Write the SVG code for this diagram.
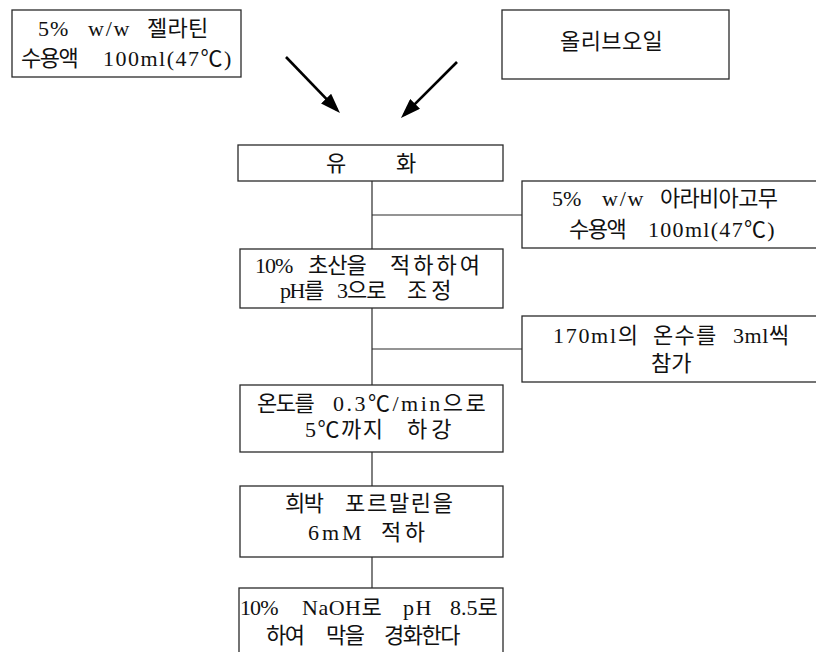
<svg xmlns="http://www.w3.org/2000/svg" width="816" height="652" viewBox="0 0 816 652">
<style>
.box{fill:#fff;stroke:#2a2a2a;stroke-width:1.3}
.t{font-family:"Liberation Serif","Noto Sans CJK KR",serif;font-size:22px;fill:#111}
.c{stroke:#2a2a2a;stroke-width:1.2;fill:none}
.a{stroke:#000;stroke-width:2.6;fill:none}
</style>
<defs>
<marker id="ah" viewBox="0 0 20 14" refX="16" refY="7" markerWidth="20" markerHeight="14" markerUnits="userSpaceOnUse" orient="auto">
<path d="M0,0 L20,7 L0,14 z" fill="#000"/>
</marker>
</defs>
<rect width="816" height="652" fill="#fff"/>

<g id="connectors">
<line class="a" x1="286" y1="57" x2="337.2" y2="110.1" marker-end="url(#ah)"/>
<line class="a" x1="457" y1="62" x2="403.8" y2="115.2" marker-end="url(#ah)"/>
<line class="c" x1="372" y1="181" x2="372" y2="249"/>
<line class="c" x1="372" y1="215" x2="522" y2="215"/>
<line class="c" x1="372" y1="308" x2="372" y2="385"/>
<line class="c" x1="372" y1="349" x2="522" y2="349"/>
<line class="c" x1="372" y1="452" x2="372" y2="486"/>
<line class="c" x1="372" y1="557" x2="372" y2="588"/>
</g>

<g id="gelatin">
<rect class="box" x="12" y="10" width="229" height="67"/>
<text class="t" y="36"><tspan x="38" letter-spacing="1">5%</tspan> <tspan x="88" letter-spacing="1.8">w/w</tspan> <tspan x="147" letter-spacing="0.3">젤라틴</tspan></text>
<text class="t" y="66"><tspan x="21" letter-spacing="-1.5">수용액</tspan> <tspan x="103" letter-spacing="1.5">100ml(47℃)</tspan></text>
</g>

<g id="olive">
<rect class="box" x="502" y="10" width="227" height="69"/>
<text class="t" x="560" y="49" letter-spacing="0.4">올리브오일</text>
</g>

<g id="emulsify">
<rect class="box" x="238" y="145" width="265" height="36"/>
<text class="t" y="171"><tspan x="326">유</tspan> <tspan x="396">화</tspan></text>
</g>

<g id="arabic">
<rect class="box" x="522" y="181" width="300" height="67"/>
<text class="t" y="206"><tspan x="552">5%</tspan> <tspan x="602" letter-spacing="1.8">w/w</tspan> <tspan x="660" letter-spacing="-0.7">아라비아고무</tspan></text>
<text class="t" y="237"><tspan x="569" letter-spacing="-1.5">수용액</tspan> <tspan x="648" letter-spacing="1.3">100ml(47℃)</tspan></text>
</g>

<g id="acid">
<rect class="box" x="240" y="249" width="263" height="59"/>
<text class="t" y="273"><tspan x="255" letter-spacing="-1">10%</tspan> <tspan x="308" letter-spacing="-1">초산을</tspan> <tspan x="390" letter-spacing="3">적하하여</tspan></text>
<text class="t" y="298"><tspan x="280" letter-spacing="-1.5">pH를</tspan> <tspan x="337" letter-spacing="-1">3으로</tspan> <tspan x="407" letter-spacing="4">조정</tspan></text>
</g>

<g id="water">
<rect class="box" x="522" y="316" width="300" height="66"/>
<text class="t" y="343"><tspan x="553" letter-spacing="1.7">170ml의</tspan> <tspan x="653" letter-spacing="1.3">온수를</tspan> <tspan x="733" letter-spacing="0.6">3ml씩</tspan></text>
<text class="t" x="651" y="371">참가</text>
</g>

<g id="cool">
<rect class="box" x="240" y="385" width="263" height="67"/>
<text class="t" y="411"><tspan x="257" letter-spacing="-1.5">온도를</tspan> <tspan x="333" letter-spacing="2.5">0.3℃/min으로</tspan></text>
<text class="t" y="437"><tspan x="305" letter-spacing="1.5">5℃까지</tspan> <tspan x="407" letter-spacing="4">하강</tspan></text>
</g>

<g id="formalin">
<rect class="box" x="240" y="486" width="263" height="71"/>
<text class="t" y="511"><tspan x="285" letter-spacing="-1.5">희박</tspan> <tspan x="345" letter-spacing="1.7">포르말린을</tspan></text>
<text class="t" y="540"><tspan x="308" letter-spacing="2.9">6mM</tspan> <tspan x="381" letter-spacing="3.5">적하</tspan></text>
</g>

<g id="harden">
<rect class="box" x="239" y="588" width="264" height="80"/>
<text class="t" y="615"><tspan x="240" letter-spacing="-0.9">10%</tspan> <tspan x="302" letter-spacing="0.5">NaOH로</tspan> <tspan x="403" letter-spacing="1.6">pH</tspan> <tspan x="450">8.5로</tspan></text>
<text class="t" y="643"><tspan x="266" letter-spacing="-1.5">하여</tspan> <tspan x="326" letter-spacing="-1.5">막을</tspan> <tspan x="384" letter-spacing="-1.5">경화한다</tspan></text>
</g>
</svg>
